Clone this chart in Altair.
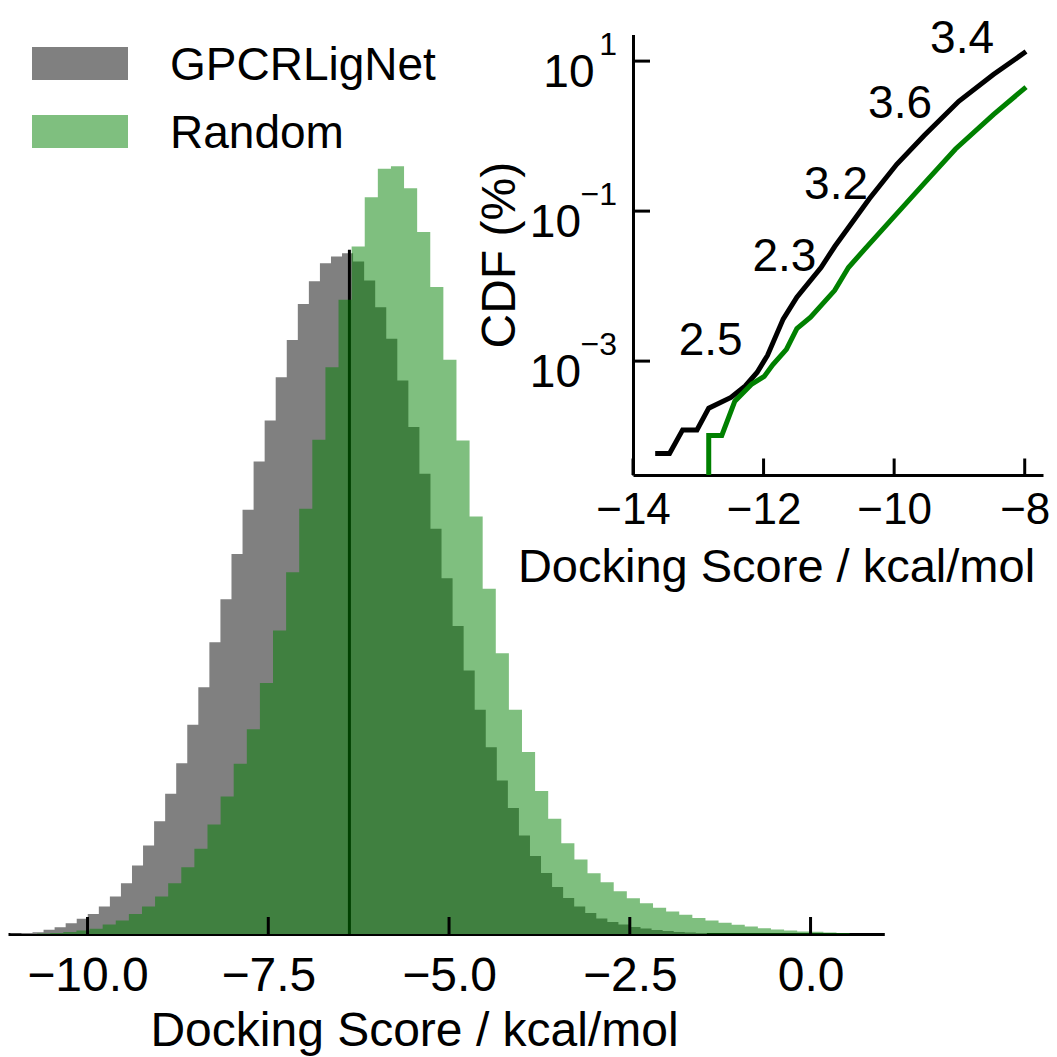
import altair as alt
import pandas as pd

FONT = "Liberation Sans"

# ---------------- main histogram data (density per bin) ----------------
gray_first_edge = -11.067
gray_bin_width = 0.1529
gray_density = [0.0002, 0.0004, 0.0008, 0.0019, 0.0030, 0.0048, 0.0068, 0.0090,
                0.0123, 0.0168, 0.0227, 0.0306, 0.0396, 0.0504, 0.0627, 0.0764, 0.0936, 0.1104,
                0.1305, 0.1497, 0.1700, 0.1897, 0.2113, 0.2296, 0.2490, 0.2657, 0.2818, 0.2919,
                0.3000, 0.3030, 0.3045, 0.3008, 0.2923, 0.2803, 0.2662, 0.2475, 0.2267, 0.2058,
                0.1812, 0.1591, 0.1377, 0.1178, 0.1003, 0.0835, 0.0686, 0.0564, 0.0441, 0.0349,
                0.0273, 0.0210, 0.0161, 0.0123, 0.0094, 0.0069, 0.0054, 0.0042, 0.0031, 0.0025,
                0.0018, 0.0013, 0.0009, 0.0007, 0.0004]
green_first_edge = -10.697
green_bin_width = 0.18124
green_density = [0.0002, 0.0004, 0.0009, 0.0016, 0.0023, 0.0042, 0.0060, 0.0090, 0.0123, 0.0168,
                 0.0227, 0.0299, 0.0381,
                 0.0490, 0.0615, 0.0761, 0.0916, 0.1123, 0.1357, 0.1618, 0.1902, 0.2210, 0.2535,
                 0.2836, 0.3075, 0.3295, 0.3422, 0.3434, 0.3335, 0.3139, 0.2893, 0.2568, 0.2207,
                 0.1867, 0.1544, 0.1256, 0.1003, 0.0814, 0.0639, 0.0515, 0.0406, 0.0333, 0.0272,
                 0.0232, 0.0191, 0.0160, 0.0138, 0.0117, 0.0101, 0.0086, 0.0072, 0.0060, 0.0050,
                 0.0041, 0.0034, 0.0026, 0.0020, 0.0016, 0.0011, 0.0010, 0.0007, 0.0005]
marker_score = -6.378
marker_density = 0.306
main_ticks = [-10.0, -7.5, -5.0, -2.5, 0.0]

# ---------------- inset CDF data (percent) ----------------
gpcr_cdf_x = [-13.66, -13.44, -13.24, -13.02, -12.84, -12.50, -12.28, -12.10, -11.94, -11.70,
              -11.49, -11.12, -10.91, -10.38, -9.96, -9.54, -9.01, -8.48, -7.98]
gpcr_cdf_y = [5.85e-5, 5.85e-5, 1.21e-4, 1.21e-4, 2.36e-4, 3.28e-4, 4.67e-4, 7.05e-4, 1.19e-3, 3.63e-3,
              7.10e-3, 0.0177, 0.0337, 0.146, 0.421, 1.016, 2.91, 6.62, 13.4]
rand_cdf_x = [-12.84, -12.84, -12.64, -12.44, -12.18, -11.99, -11.86, -11.65, -11.49, -11.28,
              -10.91, -10.70, -10.44, -10.07, -9.54, -9.06, -8.48, -7.98]
rand_cdf_y = [3.03e-5, 1.02e-4, 1.02e-4, 2.92e-4, 4.95e-4, 6.26e-4, 8.91e-4, 1.43e-3, 2.72e-3, 3.86e-3,
              8.78e-3, 0.0177, 0.0319, 0.0725, 0.234, 0.673, 1.93, 4.50]
inset_xticks = [-14, -12, -10, -8]
inset_yexps = [1, -1, -3]
annot_text = ["3.4", "3.6", "3.2", "2.3", "2.5"]
annot_x = [-8.96, -9.91, -10.89, -11.68, -12.81]
annot_y = [21.4, 2.91, 0.248, 0.0267, 0.00202]
legend_labels = ["GPCRLigNet", "Random"]

# ---------------- layout ----------------
W, H = 1041, 926
ins_left, ins_right = 625, 1035
ins_bottom, ins_top = 467, 26.4
main_x = alt.Scale(domain=[-11.10, 1.02], range=[0, 876.3], nice=False, zero=False)
main_y = alt.Scale(domain=[0, 0.41413], range=[H, 0], nice=False, zero=True)
ins_x = alt.Scale(domain=[-14.0, -7.72], range=[ins_left, ins_right], nice=False, zero=False)
ins_y = alt.Scale(type="log", domain=[3.03e-5, 22.7], range=[ins_bottom, ins_top], nice=False)


def steps(first, width, dens):
    n = len(dens)
    return pd.DataFrame({"score": [first + i * width for i in range(n + 1)],
                         "density": list(dens) + [0.0]})


gray_df = steps(gray_first_edge, gray_bin_width, gray_density)
green_df = steps(green_first_edge, green_bin_width, green_density)

main_axis = alt.Axis(values=main_ticks, format=".1f", ticks=False,
                     domainWidth=3, domainColor="black", grid=False,
                     labelFont=FONT, labelFontSize=48, labelColor="black", labelPadding=56,
                     labelBaseline="alphabetic", labelFlush=False, labelOverlap=False,
                     title="Docking Score / kcal/mol", titleFont=FONT, titleFontSize=48,
                     titleFontWeight="normal", titleColor="black", titleX=406, titleY=111,
                     titleBaseline="alphabetic", titleAlign="center")

gray = alt.Chart(gray_df).mark_area(interpolate="step-after", color="#808080").encode(
    x=alt.X("score:Q", scale=main_x, axis=main_axis),
    y=alt.Y("density:Q", scale=main_y, axis=None))
marker = alt.Chart(pd.DataFrame({"score": [marker_score], "density": [marker_density], "base": [0.0]})
                   ).mark_rule(color="black", strokeWidth=3).encode(
    x=alt.X("score:Q", scale=main_x, axis=None),
    y=alt.Y("density:Q", scale=main_y, axis=None), y2="base:Q")
green = alt.Chart(green_df).mark_area(interpolate="step-after", color="green", opacity=0.5).encode(
    x=alt.X("score:Q", scale=main_x, axis=None),
    y=alt.Y("density:Q", scale=main_y, axis=None))
main_tick_marks = alt.Chart(pd.DataFrame({"tick": main_ticks})).mark_rule(color="black", strokeWidth=3).encode(
    x=alt.X("tick:Q", scale=main_x, axis=None), y=alt.value(H), y2=alt.value(H - 17))

# ---------------- inset ----------------
ins_x_axis = alt.Axis(orient="bottom", offset=-(H - ins_bottom), values=inset_xticks, format="d",
                      ticks=False, domainWidth=3, domainColor="black", grid=False,
                      labelFont=FONT, labelFontSize=44, labelColor="black", labelPadding=48,
                      labelBaseline="alphabetic", labelFlush=False, labelOverlap=False,
                      title="Docking Score / kcal/mol", titleFont=FONT, titleFontSize=47,
                      titleFontWeight="normal", titleColor="black", titleX=768, titleY=106,
                      titleBaseline="alphabetic", titleAlign="center")
ins_y_axis = alt.Axis(orient="left", offset=-ins_left, labels=False, ticks=False,
                      domainWidth=3, domainColor="black", grid=False,
                      title="CDF (%)", titleFont=FONT, titleFontSize=48, titleFontWeight="normal",
                      titleColor="black", titleAngle=270, titleX=-133, titleY=246.7,
                      titleBaseline="middle", titleAlign="center")

gpcr_df = pd.DataFrame({"x": gpcr_cdf_x, "cdf": gpcr_cdf_y, "i": range(len(gpcr_cdf_x))})
rand_df = pd.DataFrame({"x": rand_cdf_x, "cdf": rand_cdf_y, "i": range(len(rand_cdf_x))})

gpcr_line = alt.Chart(gpcr_df).mark_line(color="black", strokeWidth=5, strokeJoin="miter").encode(
    x=alt.X("x:Q", scale=ins_x, axis=ins_x_axis),
    y=alt.Y("cdf:Q", scale=ins_y, axis=ins_y_axis), order="i:Q")
rand_line = alt.Chart(rand_df).mark_line(color="green", strokeWidth=5, strokeJoin="miter").encode(
    x=alt.X("x:Q", scale=ins_x, axis=None),
    y=alt.Y("cdf:Q", scale=ins_y, axis=None), order="i:Q")
ins_xt = alt.Chart(pd.DataFrame({"t": inset_xticks})).mark_rule(color="black", strokeWidth=3).encode(
    x=alt.X("t:Q", scale=ins_x, axis=None), y=alt.value(ins_bottom), y2=alt.value(ins_bottom - 16.5))
yt_df = pd.DataFrame({"e": inset_yexps, "v": [10.0 ** e for e in inset_yexps],
                      "etxt": [str(e).replace("-", "\u2212") for e in inset_yexps]})
ins_yt = alt.Chart(yt_df).mark_rule(color="black", strokeWidth=3).encode(
    y=alt.Y("v:Q", scale=ins_y, axis=None), x=alt.value(ins_left), x2=alt.value(ins_left + 17))
ylab_pos = alt.Chart(yt_df).transform_filter("datum.e >= 0").mark_text(
    font=FONT, fontSize=46, align="right", baseline="alphabetic", dy=26, color="black").encode(
    y=alt.Y("v:Q", scale=ins_y, axis=None), x=alt.value(ins_left - 38.5), text=alt.value("10"))
ylab_neg = alt.Chart(yt_df).transform_filter("datum.e < 0").mark_text(
    font=FONT, fontSize=46, align="right", baseline="alphabetic", dy=26, color="black").encode(
    y=alt.Y("v:Q", scale=ins_y, axis=None), x=alt.value(ins_left - 52), text=alt.value("10"))
ylab_exp = alt.Chart(yt_df).mark_text(
    font=FONT, fontSize=32, align="right", baseline="alphabetic", dy=-6, color="black").encode(
    y=alt.Y("v:Q", scale=ins_y, axis=None), x=alt.value(ins_left - 16), text="etxt:N")
annot = alt.Chart(pd.DataFrame({"x": annot_x, "y": annot_y, "t": annot_text})).mark_text(
    font=FONT, fontSize=46, align="center", baseline="middle", dy=3, color="black").encode(
    x=alt.X("x:Q", scale=ins_x, axis=None), y=alt.Y("y:Q", scale=ins_y, axis=None), text="t:N")

# ---------------- legend ----------------
leg_df = pd.DataFrame({"label": legend_labels})
leg_gray = alt.Chart(leg_df).transform_filter(alt.datum.label == legend_labels[0]).mark_rect(
    color="#808080").encode(x=alt.value(24), x2=alt.value(120), y=alt.value(39), y2=alt.value(72))
leg_green = alt.Chart(leg_df).transform_filter(alt.datum.label == legend_labels[1]).mark_rect(
    color="green", opacity=0.5).encode(x=alt.value(24), x2=alt.value(120), y=alt.value(107), y2=alt.value(140))
leg_t1 = alt.Chart(leg_df).transform_filter(alt.datum.label == legend_labels[0]).mark_text(
    font=FONT, fontSize=46, align="left", baseline="alphabetic", color="black").encode(
    x=alt.value(162), y=alt.value(72), text="label:N")
leg_t2 = alt.Chart(leg_df).transform_filter(alt.datum.label == legend_labels[1]).mark_text(
    font=FONT, fontSize=46, align="left", baseline="alphabetic", color="black").encode(
    x=alt.value(162), y=alt.value(140), text="label:N")

chart = alt.layer(gray, marker, green, main_tick_marks,
                  gpcr_line, rand_line, ins_xt, ins_yt, ylab_pos, ylab_neg, ylab_exp, annot,
                  leg_gray, leg_green, leg_t1, leg_t2).resolve_scale(
    x="independent", y="independent").properties(
    width=W, height=H, autosize=alt.AutoSizeParams(type="none"),
    padding={"left": 0, "top": 0, "right": 0, "bottom": 123}).configure_view(stroke=None)

chart.save("out.html", embed_options={"renderer": "svg", "actions": False})
